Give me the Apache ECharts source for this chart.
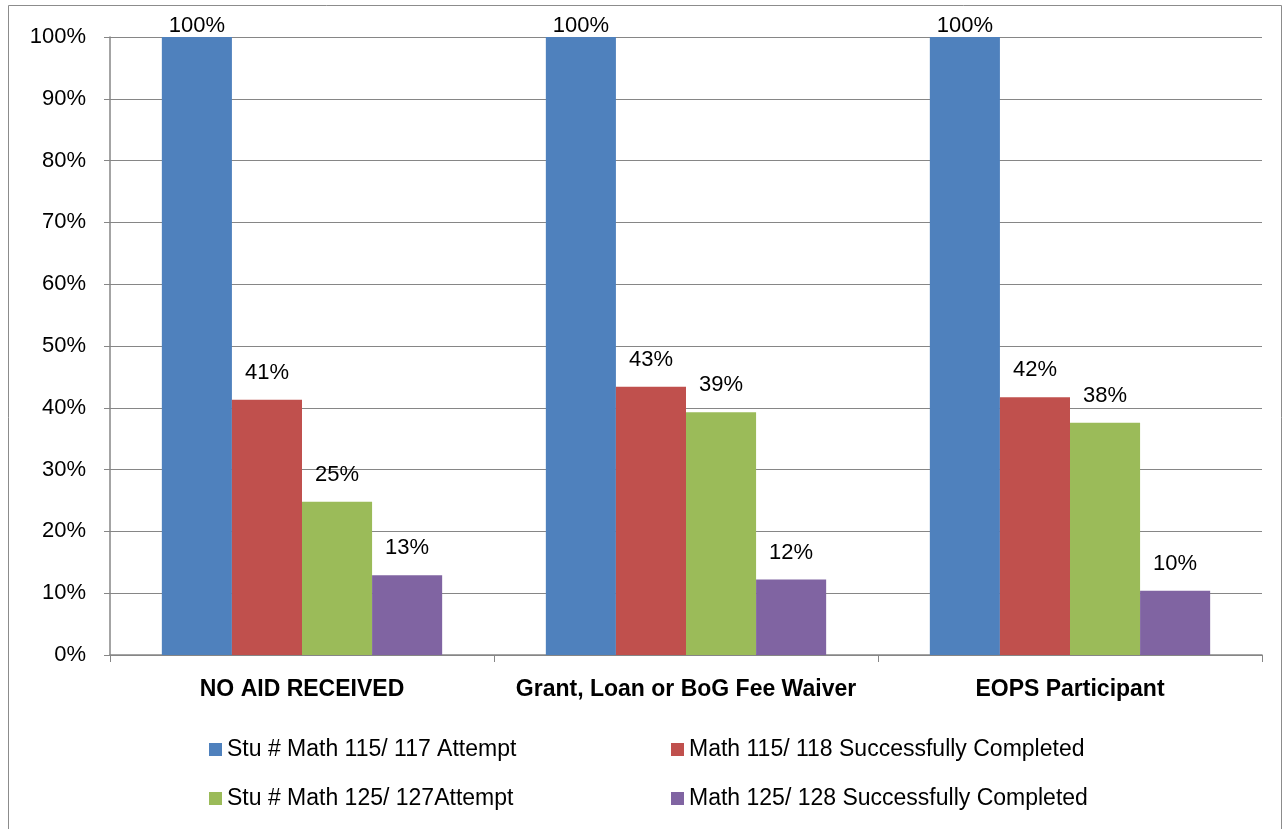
<!DOCTYPE html>
<html>
<head>
<meta charset="utf-8">
<script src="https://cdn.jsdelivr.net/npm/echarts@6/dist/echarts.min.js"></script>
<style>
html,body{margin:0;padding:0;background:#fff;}
#c1{width:1284px;height:829px;}
</style>
</head>
<body>
<div id="c1"></div>
<script>
var chart = echarts.init(document.getElementById('c1'));

var categories = ['NO AID RECEIVED', 'Grant, Loan or BoG Fee Waiver', 'EOPS Participant'];
var seriesNames = ['Stu # Math 115/ 117 Attempt', 'Math 115/ 118 Successfully Completed',
                   'Stu # Math 125/ 127Attempt', 'Math 125/ 128 Successfully Completed'];
var attempt115 = [100, 100, 100];
var completed115 = [41.3, 43.4, 41.7];
var attempt125 = [24.8, 39.3, 37.6];
var completed125 = [12.9, 12.2, 10.4];
var yTicks = [0, 10, 20, 30, 40, 50, 60, 70, 80, 90, 100];

var colors = ['#4F81BD', '#C0504D', '#9BBB59', '#8064A2'];
var font = 'Liberation Sans';

function makeSeries(i, data, dist) {
   return {
      name: seriesNames[i],
      type: 'bar',
      data: data,
      barGap: '0%',
      barCategoryGap: '27%',
      itemStyle: {color: colors[i]},
      label: {
         show: true,
         position: 'top',
         distance: dist,
         color: '#000',
         fontFamily: font,
         fontSize: 22,
         formatter: function(p){ return Math.round(p.value) + '%'; }
      }
   };
}

var option = {
   animation: false,
   color: colors,
   grid: {left: 110, right: 22, top: 37, bottom: 174},
   graphic: [{
      type: 'rect',
      shape: {x: 8.5, y: 5.5, width: 1273, height: 840},
      style: {fill: 'none', stroke: '#8c8c8c', lineWidth: 1},
      silent: true
   }],
   //两列图例
   legend: [{
      orient: 'vertical',
      left: 204, top: 733,
      itemWidth: 13, itemHeight: 13,
      itemGap: 26,
      icon: 'rect',
      textStyle: {fontFamily: font, fontSize: 23, color: '#000'},
      data: [seriesNames[0], seriesNames[2]]
   }, {
      orient: 'vertical',
      left: 666, top: 733,
      itemWidth: 13, itemHeight: 13,
      itemGap: 26,
      icon: 'rect',
      textStyle: {fontFamily: font, fontSize: 23, color: '#000'},
      data: [seriesNames[1], seriesNames[3]]
   }],
   xAxis: {
      type: 'category',
      data: categories,
      axisLine: {lineStyle: {color: '#868686', width: 1.5}},
      axisTick: {show: true, interval: 0, length: 7, lineStyle: {color: '#868686'}},
      axisLabel: {
         interval: 0,
         margin: 23,
         color: '#000',
         fontFamily: font,
         fontSize: 23,
         fontWeight: 'bold'
      }
   },
   yAxis: {
      type: 'value',
      min: yTicks[0],
      max: yTicks[yTicks.length - 1],
      interval: 10,
      axisLine: {show: true, lineStyle: {color: '#868686', width: 1.5}},
      axisTick: {show: true, length: 6, lineStyle: {color: '#868686'}},
      splitLine: {lineStyle: {color: '#868686', width: 1.2}},
      axisLabel: {
         margin: 24,
         color: '#000',
         fontFamily: font,
         fontSize: 22,
         formatter: '{value}%'
      }
   },
   series: [
      makeSeries(0, attempt115, 0),
      makeSeries(1, completed115, 16),
      makeSeries(2, attempt125, 16),
      makeSeries(3, completed125, 16)
   ]
};
chart.setOption(option);
</script>
</body>
</html>
